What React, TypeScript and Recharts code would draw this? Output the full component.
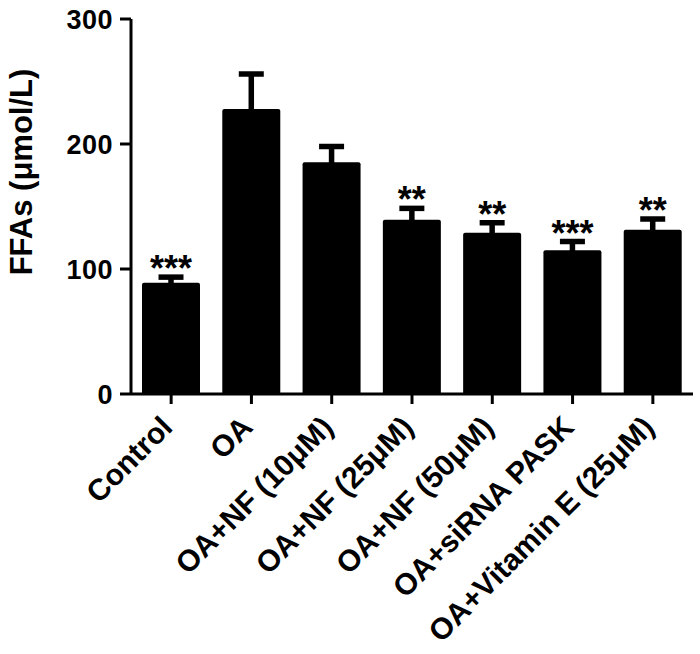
import React from 'react';
import { BarChart, Bar, XAxis, YAxis, ErrorBar, LabelList } from 'recharts';

const groups = [
  'Control',
  'OA',
  'OA+NF (10μM)',
  'OA+NF (25μM)',
  'OA+NF (50μM)',
  'OA+siRNA PASK',
  'OA+Vitamin E (25μM)',
];
const means = [89, 228, 185.5, 139.5, 129, 115, 131.5];
const sems = [4.5, 28, 12.5, 9, 8, 7, 8.5];
const marks = ['***', '', '', '**', '**', '***', '**'];
const yTicks = [0, 100, 200, 300];

const data = groups.map((name, i) => ({ name, mean: means[i], sem: sems[i], mark: marks[i] }));

const font = '"Liberation Sans", Arial, Helvetica, sans-serif';

const XTick = (props: any) => {
  const { x, y, payload } = props;
  return (
    <g transform={`translate(${x + 3},${y + 23})`}>
      <text textAnchor="end" transform="rotate(-45)" fontSize={30} fontWeight="bold" fontFamily={font} fill="#000">
        {payload.value}
      </text>
    </g>
  );
};

// stars sit just above the error bar cap
const Stars = (props: any) => {
  const { x, y, width, height, index } = props;
  const d = data[index];
  if (!d || !d.mark) return null;
  const perUnit = Math.abs(height) / d.mean;
  const top = y - d.sem * perUnit;
  return (
    <text x={x + width / 2} y={top + 4} textAnchor="middle" fontSize={36} fontWeight="bold" fontFamily={font} fill="#000">
      {d.mark}
    </text>
  );
};

const App: React.FC = () => {
  const axisStyle = { stroke: '#000', strokeWidth: 3 };
  return (
    <div style={{ position: 'absolute', left: 0, top: 0, width: 700, height: 654, background: '#fff' }}>
      <BarChart width={700} height={654} data={data} margin={{ top: 19, right: 7, left: 0, bottom: 10 }}>
        <XAxis
          dataKey="name"
          interval={0}
          height={250}
          tickSize={10}
          tickMargin={2}
          axisLine={axisStyle}
          tickLine={axisStyle}
          tick={<XTick />}
        />
        <YAxis
          width={131}
          domain={[0, 300]}
          ticks={yTicks}
          tickSize={11}
          tickMargin={7}
          axisLine={axisStyle}
          tickLine={axisStyle}
          tick={{ fill: '#000', fontSize: 27, fontWeight: 'bold', fontFamily: font, letterSpacing: 0.5 }}
          label={{
            content: () => (
              <text
                x={32}
                y={172}
                transform="rotate(-90, 32, 172)"
                textAnchor="middle"
                fontSize={31}
                fontWeight="bold"
                fontFamily={font}
                fill="#000"
              >
                FFAs (μmol/L)
              </text>
            ),
          }}
        />
        <Bar dataKey="mean" fill="#000" barSize={58} radius={[2, 2, 0, 0]} isAnimationActive={false}>
          <ErrorBar dataKey="sem" direction="y" width={12.5} strokeWidth={5.5} stroke="#000" />
          <LabelList dataKey="mark" content={<Stars />} />
        </Bar>
      </BarChart>
    </div>
  );
};

export default App;
